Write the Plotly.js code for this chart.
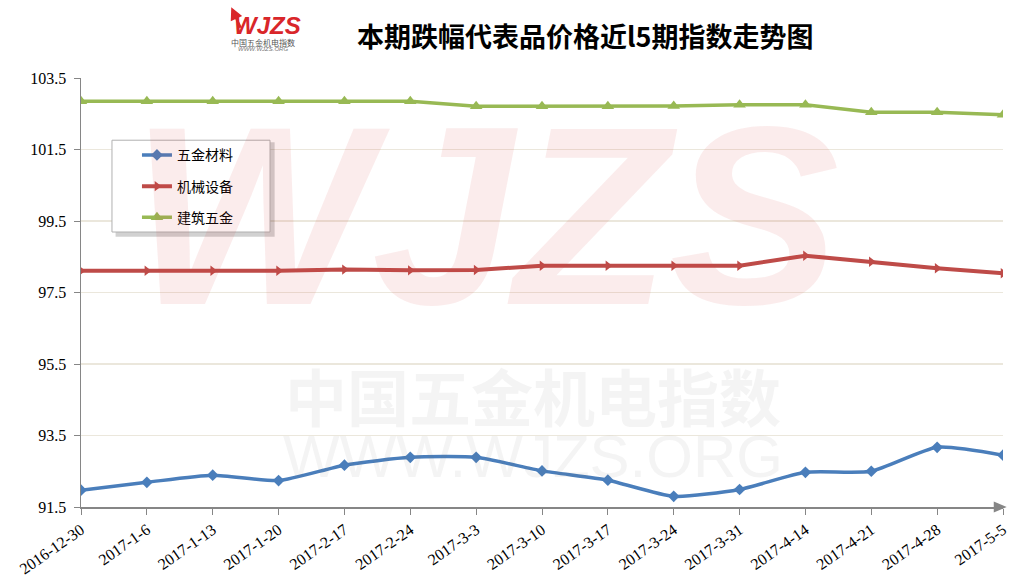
<!DOCTYPE html>
<html>
<head>
<meta charset="utf-8">
<script src="https://cdn.plot.ly/plotly-3.0.1.min.js"></script>
<style>
html,body{margin:0;padding:0;background:#fff;}
#chart{width:1024px;height:587px;}
</style>
</head>
<body>
<div id="chart"></div>
<script>
const dates = ["2016-12-30","2017-1-6","2017-1-13","2017-1-20","2017-2-17","2017-2-24","2017-3-3","2017-3-10","2017-3-17","2017-3-24","2017-3-31","2017-4-14","2017-4-21","2017-4-28","2017-5-5"];
const hardware = [91.97,92.19,92.39,92.24,92.67,92.89,92.89,92.51,92.25,91.80,91.99,92.47,92.50,93.17,92.95];
const machinery = [98.11,98.11,98.11,98.11,98.14,98.12,98.13,98.25,98.25,98.25,98.25,98.53,98.36,98.18,98.04];
const building = [102.85,102.85,102.85,102.85,102.85,102.85,102.71,102.71,102.71,102.72,102.75,102.75,102.54,102.54,102.47];
const yTicks = [91.5,93.5,95.5,97.5,99.5,101.5,103.5];
const names = ["五金材料","机械设备","建筑五金"];

const cjk = '"Noto Sans CJK SC", sans-serif';
const serif = '"Liberation Serif", "DejaVu Serif", serif';

const traces = [
  {x: dates, y: hardware, name: names[0], type: 'scatter', mode: 'lines+markers', legendgroup: 'a',
   line: {color: '#4a7ebb', width: 3.5, shape: 'spline', smoothing: 0.6},
   marker: {symbol: 'diamond', size: 9, color: '#4a7ebb'}},
  {x: dates, y: machinery, name: names[1], type: 'scatter', mode: 'lines+markers', legendgroup: 'b',
   line: {color: '#be4b48', width: 4},
   marker: {symbol: 'triangle-right', size: 9, color: '#be4b48'}},
  {x: dates, y: building, name: names[2], type: 'scatter', mode: 'lines+markers', legendgroup: 'c',
   line: {color: '#98b954', width: 3.5},
   marker: {symbol: 'triangle-up', size: 11, color: '#98b954'}}
];

const layout = {
  width: 1024, height: 587,
  margin: {l: 81, r: 21, t: 78, b: 80},
  paper_bgcolor: '#ffffff', plot_bgcolor: 'rgba(0,0,0,0)',
  showlegend: true,
  legend: {
    x: 0.0607, y: 0.857, xanchor: 'left', yanchor: 'top',
    bgcolor: 'rgba(0,0,0,0)', borderwidth: 0,
    font: {family: cjk, size: 14, color: '#000'},
    tracegroupgap: 10, itemwidth: 30
  },
  xaxis: {
    type: 'category', range: [0, 14], showgrid: false, zeroline: false,
    showline: true, linecolor: '#868686', linewidth: 1.5,
    ticks: 'outside', ticklen: 6, tickcolor: '#868686',
    tickangle: -35, tickfont: {family: serif, size: 16, color: '#000'}
  },
  yaxis: {
    range: [91.5, 103.5], tickvals: yTicks, ticktext: yTicks.map(v => v.toFixed(1)),
    showgrid: true, gridcolor: '#ebe7dc', gridwidth: 1.5, zeroline: false,
    showline: true, linecolor: '#868686', linewidth: 1.5,
    ticks: 'outside', ticklen: 6, tickcolor: '#868686', ticklabelstandoff: 4,
    tickfont: {family: serif, size: 16, color: '#000'}
  },
  shapes: [
    {type: 'path', xref: 'paper', yref: 'paper', layer: 'above',
     path: 'M 1.004,0 L 0.99,0.013 L 0.99,-0.013 Z', fillcolor: '#868686', line: {width: 0}},
    {type: 'rect', xref: 'paper', yref: 'paper', layer: 'above',
     x0: 0.0375, x1: 0.21, y0: 0.630, y1: 0.850, fillcolor: 'rgba(0,0,0,0.18)', line: {width: 0}},
    {type: 'rect', xref: 'paper', yref: 'paper', layer: 'above',
     x0: 0.0336, x1: 0.205, y0: 0.641, y1: 0.855, fillcolor: '#ffffff', line: {color: '#b0b0b0', width: 1}}
  ],
  annotations: [
    {xref: 'paper', yref: 'paper', x: 0.438, y: 0.68, xanchor: 'center', yanchor: 'middle',
     text: '<b><i>WJZS</i></b>', showarrow: false,
     font: {family: '"Liberation Sans", sans-serif', size: 255, color: 'rgba(220,70,70,0.10)'}},
    {xref: 'paper', yref: 'paper', x: 0.49, y: 0.261, xanchor: 'center', yanchor: 'middle',
     text: '<b>中国五金机电指数</b>', showarrow: false,
     font: {family: cjk, size: 62, color: 'rgba(120,120,120,0.08)'}},
    {xref: 'paper', yref: 'paper', x: 0.49, y: 0.117, xanchor: 'center', yanchor: 'middle',
     text: 'WWW.WJZS.ORG', showarrow: false,
     font: {family: '"Liberation Sans", sans-serif', size: 60, color: 'rgba(120,120,120,0.08)'}},
    {xref: 'paper', yref: 'paper', x: 0.547, y: 1.098, xanchor: 'center', yanchor: 'middle',
     text: '<b>本期跌幅代表品价格近l5期指数走势图</b>', showarrow: false,
     font: {family: cjk, size: 27, color: '#000'}},
    {xref: 'paper', yref: 'paper', x: 0.202, y: 1.1235, xanchor: 'center', yanchor: 'middle',
     text: '<b><i>WJZS</i></b>', showarrow: false,
     font: {family: '"Liberation Sans", sans-serif', size: 24, color: '#d9262a'}},
    {xref: 'paper', yref: 'paper', x: 0.163, y: 1.165, showarrow: true, arrowhead: 2, arrowsize: 1,
     arrowwidth: 2.5, arrowcolor: '#d9262a', ax: 10, ay: 22, text: ''},
    {xref: 'paper', yref: 'paper', x: 0.197, y: 1.0816, xanchor: 'center', yanchor: 'middle',
     text: '中国五金机电指数', showarrow: false,
     font: {family: cjk, size: 8, color: '#555'}},
    {xref: 'paper', yref: 'paper', x: 0.197, y: 1.0676, xanchor: 'center', yanchor: 'middle',
     text: '<i>WWW.WJZS.ORG</i>', showarrow: false,
     font: {family: '"Liberation Sans", sans-serif', size: 6, color: '#777'}}
  ]
};

Plotly.newPlot('chart', traces, layout, {displayModeBar: false, staticPlot: true});
</script>
</body>
</html>
